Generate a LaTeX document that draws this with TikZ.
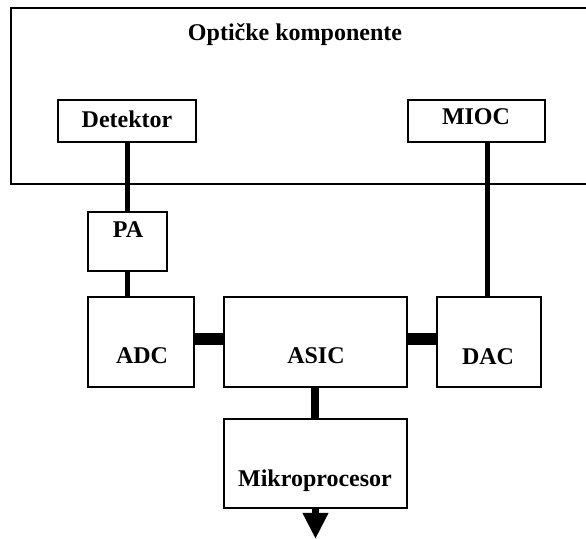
\documentclass[tikz,border=0pt]{standalone}
\usepackage{fontspec}
\setmainfont{Liberation Serif}
\usepackage{tikz}
\usetikzlibrary{arrows.meta,calc}

\begin{document}
\begin{tikzpicture}[x=0.5pt,y=-0.5pt,
  blok/.style={draw,line width=0.75pt,inner sep=0pt},
  oznaka/.style={anchor=base,inner sep=0pt,font=\fontsize{12}{14}\selectfont\bfseries},
  tanka/.style={line width=2.5pt},
  debela/.style={line width=6pt}]

\useasboundingbox (0,0) rectangle (586,539);

% Opticke komponente (desna strana odsjecena)
\draw[line width=0.75pt] (586,8) -- (11,8) -- (11,184) -- (586,184);
\node[oznaka] (naslov) at (295,41){Optičke komponente};

% Blokovi
\node[blok,minimum width=69pt,minimum height=21pt] (det) at (127,121){};
\node[blok,minimum width=68.5pt,minimum height=21pt] (mioc) at (476.5,121){};
\node[blok,minimum width=39.5pt,minimum height=29.5pt] (pa) at (127.5,241.5){};
\node[blok,minimum width=53pt,minimum height=45pt] (adc) at (141,342){};
\node[blok,minimum width=91.5pt,minimum height=45pt] (asic) at (315.5,342){};
\node[blok,minimum width=52pt,minimum height=45pt] (dac) at (489,342){};
\node[blok,minimum width=91.5pt,minimum height=44.5pt] (mikro) at (315.5,463.5){};
\coordinate (izlaz) at (315.5,539);

% Tekst u blokovima
\node[oznaka] (tdet) at (127,128){Detektor};
\node[oznaka] (tmioc) at (476,125){MIOC};
\node[oznaka] (tpa) at (128,238){PA};
\node[oznaka] (tadc) at (142,364){ADC};
\node[oznaka] (tasic) at (316,364){ASIC};
\node[oznaka] (tdac) at (488,365){DAC};
\node[oznaka] (tmikro) at (315,487){Mikroprocesor};

% Veze
\draw[tanka] ([xshift=0.5pt]det.south) -- ([xshift=0.5pt]det.south |- pa.north);
\draw[tanka] ([xshift=0.25pt]pa.south) -- ([xshift=0.25pt]pa.south |- adc.north);
\draw[tanka] ([xshift=-0.5pt]dac.north) -- ([xshift=-0.5pt]dac.north |- mioc.south);
\draw[debela] ([yshift=1.5pt]adc.east) -- ([yshift=1.5pt]asic.west);
\draw[debela] ([yshift=1.5pt]asic.east) -- ([yshift=1.5pt]dac.west);
\draw[line width=4pt] (asic.south) -- (mikro.north);

% Izlaz
\draw[line width=3.5pt,-{Triangle[length=13pt,width=12pt]}] (mikro.south) -- (izlaz);

\end{tikzpicture}
\end{document}
